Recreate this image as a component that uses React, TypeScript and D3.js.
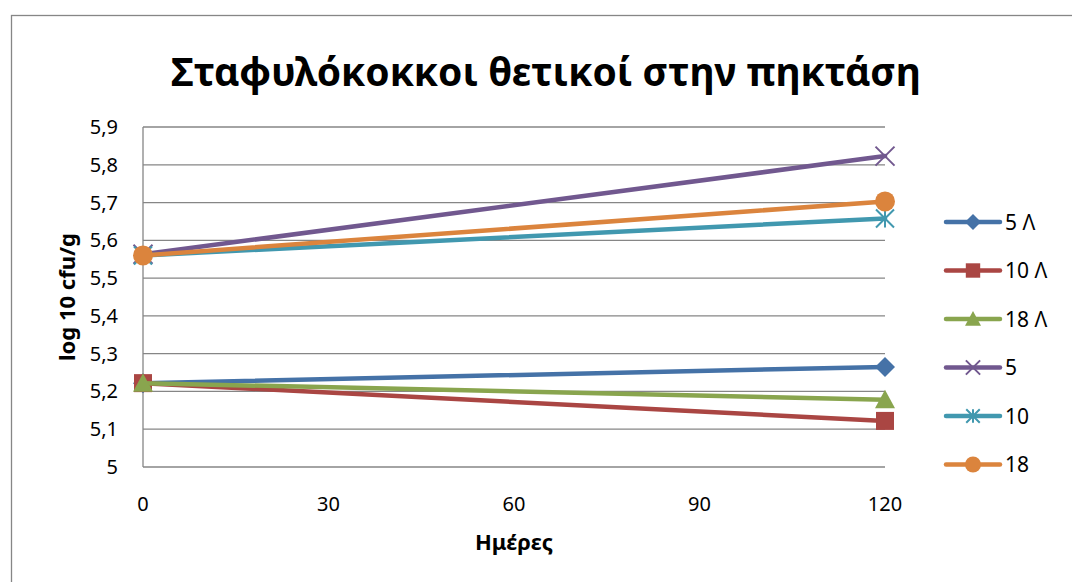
import React from "react";
import * as d3 from "d3";

const days = [0, 120];
const seriesNames = ["5 Λ", "10 Λ", "18 Λ", "5", "10", "18"];
const s5L = [5.222, 5.265];
const s10L = [5.222, 5.122];
const s18L = [5.222, 5.178];
const s5 = [5.563, 5.823];
const s10 = [5.56, 5.658];
const s18 = [5.56, 5.703];
const yTicks = [5, 5.1, 5.2, 5.3, 5.4, 5.5, 5.6, 5.7, 5.8, 5.9];
const xTicks = [0, 30, 60, 90, 120];
const colors = ["#4572A7", "#AA4643", "#89A54E", "#71588F", "#4198AF", "#DB843D"];
const markers = ["diamond", "square", "triangle", "x", "star", "circle"];

const allSeries = [s5L, s10L, s18L, s5, s10, s18];

const FONT = "'Noto Sans', 'Open Sans', sans-serif";

function Marker({ type, x, y, color, size }: { type: string; x: number; y: number; color: string; size: number }) {
  const h = size / 2;
  if (type === "diamond") {
    return <path d={`M${x},${y - h}L${x + h},${y}L${x},${y + h}L${x - h},${y}Z`} fill={color} />;
  }
  if (type === "square") {
    const s = h * 0.9;
    return <rect x={x - s} y={y - s} width={2 * s} height={2 * s} fill={color} />;
  }
  if (type === "triangle") {
    return <path d={`M${x},${y - h}L${x + h},${y + h * 0.85}L${x - h},${y + h * 0.85}Z`} fill={color} />;
  }
  if (type === "circle") {
    return <circle cx={x} cy={y} r={h} fill={color} />;
  }
  if (type === "x") {
    const s = h * 0.95;
    return (
      <path d={`M${x - s},${y - s}L${x + s},${y + s}M${x - s},${y + s}L${x + s},${y - s}`} stroke={color} strokeWidth={2} />
    );
  }
  const s = h * 0.9;
  return (
    <path
      d={`M${x - s},${y - s}L${x + s},${y + s}M${x - s},${y + s}L${x + s},${y - s}M${x},${y - s}L${x},${y + s}`}
      stroke={color}
      strokeWidth={2}
    />
  );
}

export default function App() {
  const W = 1072;
  const H = 582;
  const left = 143;
  const right = 885;
  const top = 127;
  const bottom = 467;
  const x = d3.scaleLinear().domain([0, 120]).range([left, right]);
  const y = d3.scaleLinear().domain([5, 5.9]).range([bottom, top]);
  const line = d3
    .line<number>()
    .x((_, i) => x(days[i]))
    .y((d) => y(d));
  const fmt = (v: number) => (Math.abs(v - 5) < 1e-9 ? "5" : d3.format(".1f")(v).replace(".", ","));
  const legendY = [222, 270.5, 319, 367.5, 416, 464.5];

  return (
    <svg
      width={W}
      height={H}
      style={{ position: "absolute", left: 0, top: 0, background: "#fff" }}
      fontFamily={FONT}
    >
      <rect x={0} y={0} width={W} height={H} fill="#fff" />
      <rect x={11.5} y={15.5} width={W + 20} height={H + 20} fill="none" stroke="#868686" strokeWidth={1.3} />
      <text x={546} y={86} textAnchor="middle" fontSize={39} fontWeight="bold" fill="#000">
        Σταφυλόκοκκοι θετικοί στην πηκτάση
      </text>
      {yTicks.map((t) => (
        <line key={t} x1={left} x2={right} y1={y(t)} y2={y(t)} stroke="#868686" strokeWidth={1.3} />
      ))}
      <line x1={left} x2={left} y1={top} y2={bottom} stroke="#868686" strokeWidth={1.3} />
      {yTicks.map((t) => (
        <text key={t} x={118} y={y(t) + 7} textAnchor="end" fontSize={20} fill="#000">
          {fmt(t)}
        </text>
      ))}
      {xTicks.map((t) => (
        <text key={t} x={x(t)} y={511} textAnchor="middle" fontSize={20} fill="#000">
          {t}
        </text>
      ))}
      <text x={514} y={550} textAnchor="middle" fontSize={22} fontWeight="bold" fill="#000">
        Ημέρες
      </text>
      <text
        transform={`translate(75,297) rotate(-90)`}
        textAnchor="middle"
        fontSize={22}
        fontWeight="bold"
        fill="#000"
      >
        log 10 cfu/g
      </text>
      {allSeries.map((s, i) => (
        <g key={i}>
          <path d={line(s) || ""} fill="none" stroke={colors[i]} strokeWidth={4.5} strokeLinecap="round" />
          {s.map((v, j) => (
            <Marker key={j} type={markers[i]} x={x(days[j])} y={y(v)} color={colors[i]} size={20} />
          ))}
        </g>
      ))}
      {seriesNames.map((n, i) => (
        <g key={n}>
          <line x1={946} x2={1000} y1={legendY[i]} y2={legendY[i]} stroke={colors[i]} strokeWidth={4.5} strokeLinecap="round" />
          <Marker type={markers[i]} x={973} y={legendY[i]} color={colors[i]} size={markers[i] === "x" || markers[i] === "star" ? 15 : 16} />
          <text x={1005} y={legendY[i] + 7.5} fontSize={21} fill="#000">
            {n}
          </text>
        </g>
      ))}
    </svg>
  );
}
